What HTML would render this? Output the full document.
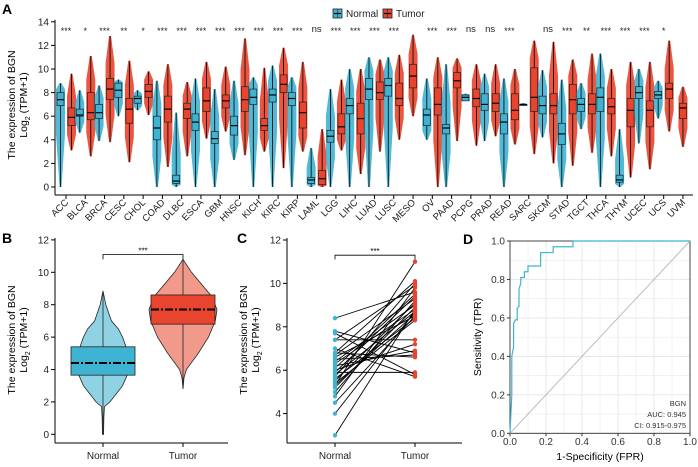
<!DOCTYPE html>
<html><head><meta charset="utf-8"><style>
body{margin:0;background:#fff}
svg{display:block;font-family:"Liberation Sans",Arial,sans-serif}
</style></head><body>
<svg id="fig" width="698" height="467" viewBox="0 0 698 467" xmlns="http://www.w3.org/2000/svg"></svg>
<script>
// ---------- Panel A data ----------
const cats=["ACC","BLCA","BRCA","CESC","CHOL","COAD","DLBC","ESCA","GBM","HNSC","KICH","KIRC","KIRP","LAML","LGG","LIHC","LUAD","LUSC","MESO","OV","PAAD","PCPG","PRAD","READ","SARC","SKCM","STAD","TGCT","THCA","THYM","UCEC","UCS","UVM"];
const sigLabels=["***","*","***","**","*","***","***","***","***","***","***","***","***","ns","***","***","***","***","","***","***","ns","ns","***","","ns","***","**","***","***","***","*",""];
// [min, q1, median, q3, max]
const normalStats=[[0,6.9,7.4,8.0,8.8],[4.6,6.0,6.1,6.6,8.2],[3.9,5.8,6.3,7.0,8.6],[6.0,7.6,8.2,8.8,9.1],[6.5,7.1,7.5,7.7,8.2],[0,4.0,5.0,6.0,9.0],[0,0.3,0.5,1.0,6.3],[0,4.8,5.5,6.2,9.2],[0,3.7,4.1,4.7,8.3],[2.3,4.4,5.2,6.0,9.0],[0,7.0,7.6,8.3,9.3],[0,7.2,7.8,8.3,10.3],[0,6.9,7.5,8.0,9.3],[0,0.3,0.6,0.8,3.3],[0,3.8,4.3,4.8,8.3],[0,6.2,6.9,7.5,10.0],[0,7.4,8.3,9.2,11.0],[0,7.7,8.6,9.2,11.0],null,[4.0,5.2,6.1,6.6,9.2],[0,4.5,5.0,5.3,10.4],[7.3,7.3,7.6,7.8,7.9],[3.9,6.5,7.0,7.9,9.6],[0,4.5,5.5,6.2,9.2],[6.9,6.9,7.0,7.0,7.1],[4.2,6.2,6.9,7.7,9.9],[0,3.6,4.5,5.4,9.1],[4.9,6.4,7.0,7.5,8.8],[0,6.4,7.6,8.4,11.3],[0,0.4,0.6,1.0,4.9],[3.7,7.5,8.0,8.5,10.0],[5.8,7.5,7.8,8.1,9.0],null];
const tumorStats=[[3.1,5.2,5.9,6.7,9.6],[2.6,5.7,6.3,8.0,11.1],[3.8,7.4,8.3,9.2,12.8],[2.1,5.4,6.6,7.5,10.7],[6.1,7.6,8.1,8.7,9.8],[1.7,5.5,6.6,7.7,10.4],[2.6,5.8,6.6,7.1,8.9],[4.1,6.4,7.3,8.4,10.6],[4.7,6.7,7.3,7.8,10.2],[2.7,6.4,7.4,8.5,12.6],[3.0,4.8,5.2,5.8,10.1],[1.6,8.0,8.7,9.5,11.8],[3.0,5.0,6.3,7.2,10.6],[0,0.2,0.7,1.4,4.9],[3.1,4.5,5.1,6.2,9.1],[1.1,4.5,5.8,7.1,10.0],[3.0,7.4,8.0,8.9,10.8],[4.0,6.9,7.5,8.8,11.2],[6.0,8.4,9.4,10.4,12.9],[0,6.1,7.0,8.4,11.0],[3.9,8.4,9.0,9.7,10.9],[3.5,6.8,7.5,8.3,10.4],[4.3,6.4,7.1,7.9,10.4],[3.6,5.7,6.5,7.9,10.0],[2.8,6.4,7.6,10.1,12.4],[2.0,6.2,6.9,7.9,12.3],[1.8,6.2,7.4,8.7,10.8],[2.9,6.2,7.0,7.9,11.3],[2.6,6.2,6.8,7.5,10.0],[0.8,5.1,6.5,7.5,10.6],[1.5,5.1,6.5,7.3,10.6],[4.7,7.5,8.3,8.8,12.4],[3.4,5.8,6.7,7.1,8.5]];
const yTicksA=[0,2,4,6,8,10,12,14];
// ---------- Panel B data ----------
const boxB={Normal:[0,3.65,4.4,5.4,8.85],Tumor:[2.8,6.8,7.7,8.6,10.8]};
const violinNY=[0,1,1.7,2,3,4,4.5,5,6,6.5,7,8,8.85];
const violinND=[0.02,0.03,0.05,0.25,0.7,0.95,1,0.9,0.7,0.55,0.3,0.1,0];
const violinTY=[2.8,3.5,4,5,6,7,7.7,8.5,9,10,10.8];
const violinTD=[0,0.03,0.1,0.45,0.75,0.95,1,0.85,0.65,0.25,0];
const yTicksB=[0,2,4,6,8,10,12];
// ---------- Panel C data ----------
const pairNormal=[8.4,7.8,7.7,7.4,7.4,7.0,6.8,6.8,6.7,6.6,6.5,6.4,6.3,6.2,6.1,6.0,5.9,5.9,5.8,5.7,5.6,5.5,5.4,5.3,5.3,5.2,5.0,4.8,4.5,4.0,3.0];
const pairTumor=[9.6,6.8,5.8,7.4,9.9,5.7,6.6,10.1,9.3,8.5,6.7,9.0,8.8,6.9,9.5,7.2,9.4,5.9,8.7,10.0,8.4,9.1,8.3,8.6,11.0,8.9,9.2,9.8,8.5,8.7,8.8];
const yTicksC=[4,6,8,10,12];
// ---------- Panel D data ----------
const rocFPR=[0,0.01,0.01,0.02,0.02,0.03,0.04,0.04,0.05,0.05,0.06,0.06,0.08,0.08,0.1,0.1,0.17,0.17,0.24,0.24,0.35,0.35,1];
const rocTPR=[0,0.2,0.4,0.45,0.57,0.59,0.59,0.65,0.66,0.75,0.78,0.81,0.81,0.84,0.84,0.87,0.87,0.94,0.94,0.97,0.97,1,1];
const ticksD=[0,0.2,0.4,0.6,0.8,1.0];

const NC="#3fb3d2",TC="#e8442e",NL="#8fd2e4",TL="#f19a8b";
const svg=document.getElementById('fig');
function el(tag,attrs,parent,text){const e=document.createElementNS("http://www.w3.org/2000/svg",tag);for(const k in attrs)e.setAttribute(k,attrs[k]);if(text!==undefined)e.textContent=text;(parent||svg).appendChild(e);return e;}
function grp(name){const g=el('g',{});return g;}

// ===== Panel A =====
const gA=grp('panel-a');
const yA=v=>187-v*11.8, xA=i=>66+i*19.28;
let t=el('text',{x:2,y:14,'font-size':14,'font-weight':'bold'},gA,'A');

el('line',{x1:55,y1:yA(14)-2,x2:55,y2:195,stroke:'#000','stroke-width':1},gA);
el('line',{x1:55,y1:195,x2:693,y2:195,stroke:'#000','stroke-width':1},gA);
yTicksA.forEach(v=>{el('line',{x1:51,x2:55,y1:yA(v),y2:yA(v),stroke:'#000'},gA);
 t=el('text',{x:49,y:yA(v)+3.5,'font-size':10,'text-anchor':'end',fill:'#222'},gA,v);
 });
t=el('text',{transform:'translate(15,105) rotate(-90)','font-size':10.5,'text-anchor':'middle'},gA,'The expression of BGN');

t=el('text',{transform:'translate(27,105) rotate(-90)','font-size':10.5,'text-anchor':'middle'},gA);
t.innerHTML='Log<tspan font-size="7" dy="3">2</tspan><tspan dy="-3"> (TPM+1)</tspan>';

function drawBox(g,cx,s,col,hw,strip){
 if(strip){const mid1=s[1]-(s[1]-s[0])*0.35, mid3=s[3]+(s[4]-s[3])*0.35;
  const pts=[[cx-1,yA(s[0])],[cx-hw,yA(mid1)],[cx-hw,yA(mid3)],[cx-1,yA(s[4])],[cx+1,yA(s[4])],[cx+hw,yA(mid3)],[cx+hw,yA(mid1)],[cx+1,yA(s[0])]];
  el('polygon',{points:pts.map(p=>p.join(',')).join(' '),fill:col,opacity:0.9},g);}
 el('line',{x1:cx,x2:cx,y1:yA(s[0]),y2:yA(s[4]),stroke:'#000','stroke-width':0.8},g);
 el('rect',{x:cx-3.5,y:yA(s[3]),width:7,height:Math.max(1,yA(s[1])-yA(s[3])),fill:col,stroke:'#222','stroke-width':0.7},g);
 el('line',{x1:cx-3.5,x2:cx+3.5,y1:yA(s[2]),y2:yA(s[2]),stroke:'#000','stroke-width':1.2},g);}
cats.forEach((c,i)=>{const cx=xA(i);const g=el('g',{},gA);
 
 const n=normalStats[i],tm=tumorStats[i];
 const nx=n&&tm?cx-5.5:cx, tx=n&&tm?cx+5.5:cx;
 if(n){const b=el('g',{},g);drawBox(b,nx,n,NC,4.5,true);}
 if(tm){const b=el('g',{},g);drawBox(b,tx,tm,TC,4.5,true);}
 el('line',{x1:cx,x2:cx,y1:195,y2:199,stroke:'#000'},g);
 let l=el('text',{transform:`translate(${cx+3},${203}) rotate(-45)`,'font-size':9.5,'text-anchor':'end',fill:'#222'},g,c);
 
 if(sigLabels[i]){l=el('text',{x:cx,y:sigLabels[i]=='ns'?32:34,'font-size':sigLabels[i]=='ns'?9.5:9,'text-anchor':'middle',fill:'#222'},g,sigLabels[i]);
  }
});
// legend
const lg=grp('legend');
[['Normal',NC,333],['Tumor',TC,383]].forEach(([n,c,x])=>{const e=el('g',{},lg);
 
 el('rect',{x:x,y:9,width:9,height:9,fill:c,stroke:'#222','stroke-width':0.8},e);
 el('line',{x1:x+4.5,x2:x+4.5,y1:9,y2:18,stroke:'#222','stroke-width':0.6},e);
 el('line',{x1:x+1,x2:x+8,y1:13.5,y2:13.5,stroke:'#000','stroke-width':1.2},e);
 el('text',{x:x+13,y:17,'font-size':10,fill:'#222'},e,n);});

// ===== Panel B =====
const gB=grp('panel-b');
const yB=v=>434.3-v*16.2; const xB={Normal:103,Tumor:183};
t=el('text',{x:2,y:243,'font-size':14,'font-weight':'bold'},gB,'B');
el('line',{x1:55,y1:238,x2:55,y2:443,stroke:'#000'},gB);
el('line',{x1:55,y1:443,x2:228,y2:443,stroke:'#000'},gB);
yTicksB.forEach(v=>{el('line',{x1:51,x2:55,y1:yB(v),y2:yB(v),stroke:'#000'},gB);
 t=el('text',{x:49,y:yB(v)+3.5,'font-size':10,'text-anchor':'end',fill:'#222'},gB,v);});
['Normal','Tumor'].forEach(k=>{el('line',{x1:xB[k],x2:xB[k],y1:443,y2:447,stroke:'#000'},gB);
 t=el('text',{x:xB[k],y:459,'font-size':10,'text-anchor':'middle',fill:'#222'},gB,k);});
t=el('text',{transform:'translate(15,340) rotate(-90)','font-size':10.5,'text-anchor':'middle'},gB,'The expression of BGN');
t=el('text',{transform:'translate(27,340) rotate(-90)','font-size':10.5,'text-anchor':'middle'},gB);t.innerHTML='Log<tspan font-size="7" dy="3">2</tspan><tspan dy="-3"> (TPM+1)</tspan>';
function violin(ys,ds,cx,hw,col,name){const l=ys.map((y,i)=>[cx-ds[i]*hw,yB(y)]),r=ys.map((y,i)=>[cx+ds[i]*hw,yB(y)]).reverse();
 const p=el('polygon',{points:l.concat(r).map(q=>q.join(',')).join(' '),fill:col,stroke:'#222','stroke-width':0.8},gB);
 }
violin(violinNY,violinND,xB.Normal,28,NL,'normal-violin');
violin(violinTY,violinTD,xB.Tumor,34,TL,'tumor-violin');
['Normal','Tumor'].forEach(k=>{const s=boxB[k],cx=xB[k],c=k=='Normal'?NC:TC;const g=el('g',{},gB);
 
 el('line',{x1:cx,x2:cx,y1:yB(s[0]),y2:yB(s[4]),stroke:'#222','stroke-width':0.8},g);
 el('rect',{x:cx-32,y:yB(s[3]),width:64,height:yB(s[1])-yB(s[3]),fill:c,stroke:'#222','stroke-width':0.8},g);
 el('line',{x1:cx-32,x2:cx+32,y1:yB(s[2]),y2:yB(s[2]),stroke:'#000','stroke-width':2,'stroke-dasharray':'8 2 2 2'},g);});
el('path',{d:`M${xB.Normal},${yB(10.8)} V${yB(11.1)} H${xB.Tumor} V${yB(10.8)}`,fill:'none',stroke:'#000','stroke-width':0.8},gB);
t=el('text',{x:143,y:yB(11.1)-1,'font-size':8,'text-anchor':'middle'},gB,'***');

// ===== Panel C =====
const gC=grp('panel-c');
const yC=v=>240+(12-v)*21.7; const xC={Normal:335,Tumor:415};
t=el('text',{x:237,y:243,'font-size':14,'font-weight':'bold'},gC,'C');
el('line',{x1:287,y1:238,x2:287,y2:443,stroke:'#000'},gC);
el('line',{x1:287,y1:443,x2:462,y2:443,stroke:'#000'},gC);
yTicksC.forEach(v=>{el('line',{x1:283,x2:287,y1:yC(v),y2:yC(v),stroke:'#000'},gC);
 t=el('text',{x:281,y:yC(v)+3.5,'font-size':10,'text-anchor':'end',fill:'#222'},gC,v);});
['Normal','Tumor'].forEach(k=>{el('line',{x1:xC[k],x2:xC[k],y1:443,y2:447,stroke:'#000'},gC);
 t=el('text',{x:xC[k],y:459,'font-size':10,'text-anchor':'middle',fill:'#222'},gC,k);});
t=el('text',{transform:'translate(247,340) rotate(-90)','font-size':10.5,'text-anchor':'middle'},gC,'The expression of BGN');
t=el('text',{transform:'translate(259,340) rotate(-90)','font-size':10.5,'text-anchor':'middle'},gC);t.innerHTML='Log<tspan font-size="7" dy="3">2</tspan><tspan dy="-3"> (TPM+1)</tspan>';
pairNormal.forEach((n,i)=>{const l=el('line',{x1:xC.Normal,y1:yC(n),x2:xC.Tumor,y2:yC(pairTumor[i]),stroke:'#000','stroke-width':0.9},gC);
 });
pairNormal.forEach((n,i)=>{let c=el('circle',{cx:xC.Normal,cy:yC(n),r:2.2,fill:NC},gC);
 c=el('circle',{cx:xC.Tumor,cy:yC(pairTumor[i]),r:2.2,fill:TC},gC);});
el('path',{d:`M${xC.Normal},${yC(11.1)} V${yC(11.3)} H${xC.Tumor} V${yC(11.1)}`,fill:'none',stroke:'#000','stroke-width':0.8},gC);
t=el('text',{x:375,y:yC(11.3)-1,'font-size':8,'text-anchor':'middle'},gC,'***');

// ===== Panel D =====
const gD=grp('panel-d');
const xD=v=>510+v*180, yD=v=>433.3-v*192.3;
t=el('text',{x:463,y:244,'font-size':14,'font-weight':'bold'},gD,'D');
for(let k=0;k<=10;k++){const v=k/10;
 el('line',{x1:xD(v),x2:xD(v),y1:yD(0),y2:yD(1),stroke:'#e6e6e6','stroke-width':k%2?0.5:0.9},gD);
 el('line',{x1:xD(0),x2:xD(1),y1:yD(v),y2:yD(v),stroke:'#e6e6e6','stroke-width':k%2?0.5:0.9},gD);}
el('rect',{x:xD(0),y:yD(1),width:180,height:192.3,fill:'none',stroke:'#333','stroke-width':0.9},gD);
el('line',{x1:xD(0),y1:yD(0),x2:xD(1),y2:yD(1),stroke:'#bbb','stroke-width':1},gD);
ticksD.forEach(v=>{el('line',{x1:xD(v),x2:xD(v),y1:yD(0),y2:yD(0)+3,stroke:'#333'},gD);
 t=el('text',{x:xD(v),y:445,'font-size':10,'text-anchor':'middle',fill:'#333'},gD,v.toFixed(1));
 el('line',{x1:xD(0)-3,x2:xD(0),y1:yD(v),y2:yD(v),stroke:'#333'},gD);
 t=el('text',{x:xD(0)-5,y:yD(v)+3.5,'font-size':10,'text-anchor':'end',fill:'#333'},gD,v.toFixed(1));});
const roc=el('polyline',{points:rocFPR.map((f,i)=>xD(f)+','+yD(rocTPR[i])).join(' '),fill:'none',stroke:NC,'stroke-width':1.2},gD);

t=el('text',{x:600,y:460,'font-size':10.5,'text-anchor':'middle'},gD,'1-Specificity (FPR)');
t=el('text',{transform:'translate(481,337) rotate(-90)','font-size':10.5,'text-anchor':'middle'},gD,'Sensitivity (TPR)');
[['BGN',406],['AUC: 0.945',417],['CI: 0.915-0.975',428]].forEach(([s,y])=>{t=el('text',{x:686,y:y,'font-size':7.5,'text-anchor':'end',fill:'#333'},gD,s);});
</script>
</body></html>
